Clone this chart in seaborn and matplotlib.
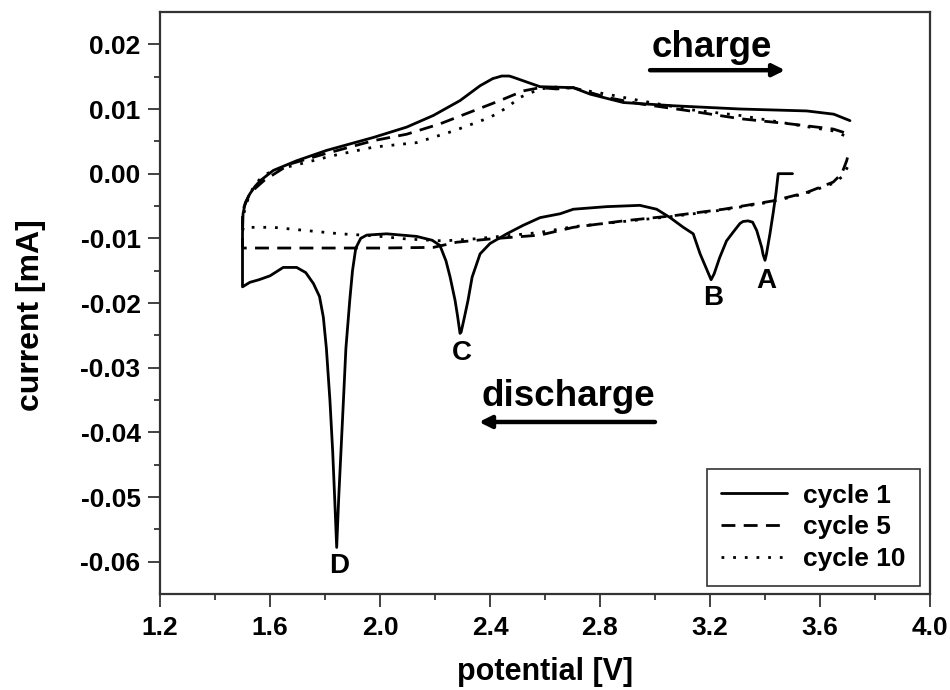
import matplotlib
matplotlib.use('Agg')
import matplotlib.pyplot as plt
import pandas as pd
import seaborn as sns

# cycle 1 (starts at OCV, goes through A, B, C, D, then charges back up)
cycle1_v = [3.50, 3.448, 3.44, 3.43, 3.418, 3.405, 3.40, 3.393, 3.388, 3.37, 3.355, 3.338, 3.32,
            3.309, 3.285, 3.26, 3.235, 3.215, 3.204, 3.19, 3.164, 3.139, 3.103, 3.055, 3.006,
            2.945, 2.824, 2.703, 2.655, 2.582, 2.52, 2.461, 2.40, 2.364, 2.335, 2.32, 2.307,
            2.295, 2.291, 2.282, 2.273, 2.255, 2.24, 2.218, 2.19, 2.133, 2.024, 1.952, 1.93,
            1.912, 1.90, 1.89, 1.876, 1.867, 1.858, 1.85, 1.8425, 1.835, 1.828, 1.818, 1.805,
            1.794, 1.78, 1.758, 1.73, 1.697, 1.648, 1.60, 1.56, 1.527, 1.50, 1.50, 1.502, 1.51,
            1.527, 1.545, 1.564, 1.612, 1.697, 1.806, 1.976, 2.097, 2.194, 2.291, 2.364, 2.41,
            2.443, 2.47, 2.485, 2.545, 2.582, 2.703, 2.764, 2.885, 3.067, 3.309, 3.552, 3.65,
            3.709]
cycle1_i = [0.0, 0.0, -0.003, -0.006, -0.0093, -0.0125, -0.0134, -0.0125, -0.0114, -0.0088,
            -0.0075, -0.0073, -0.0074, -0.0077, -0.009, -0.0104, -0.013, -0.0155, -0.0164,
            -0.015, -0.0124, -0.0093, -0.0083, -0.0068, -0.0055, -0.0049, -0.0051, -0.0055,
            -0.0062, -0.0068, -0.008, -0.0093, -0.0108, -0.0124, -0.016, -0.0196, -0.0222,
            -0.0245, -0.0247, -0.022, -0.0196, -0.016, -0.0135, -0.0111, -0.0103, -0.0097,
            -0.0093, -0.0095, -0.01, -0.0115, -0.015, -0.0196, -0.027, -0.0351, -0.043, -0.05,
            -0.0578, -0.05, -0.043, -0.0351, -0.027, -0.0222, -0.019, -0.017, -0.0153, -0.0145,
            -0.0145, -0.0158, -0.0164, -0.0168, -0.0175, -0.0093, -0.0062, -0.0045, -0.0031,
            -0.002, -0.0011, 0.0005, 0.002, 0.0036, 0.0056, 0.0072, 0.009, 0.0113, 0.0136,
            0.0147, 0.0151, 0.0151, 0.0149, 0.014, 0.01345, 0.0133, 0.0123, 0.011, 0.0105,
            0.010, 0.0097, 0.0092, 0.0082]

# cycle 5
cycle5_v = [3.70, 3.697, 3.679, 3.648, 3.552, 3.43, 3.249, 3.067, 2.885, 2.703, 2.582, 2.40,
            2.279, 2.194, 2.0, 1.8, 1.6, 1.5, 1.5, 1.527, 1.58, 1.673, 1.794, 1.976, 2.097,
            2.218, 2.339, 2.436, 2.521, 2.582, 2.642, 2.703, 2.824, 2.945, 3.127, 3.309, 3.491,
            3.648, 3.70]
cycle5_i = [0.0025, 0.002, 0.0, -0.0013, -0.0029, -0.0042, -0.0055, -0.0065, -0.0073, -0.0083,
            -0.0095, -0.0101, -0.0106, -0.0114, -0.0115, -0.0115, -0.0115, -0.0115, -0.0057,
            -0.003, -0.001, 0.0015, 0.003, 0.0051, 0.0061, 0.0077, 0.0097, 0.0113, 0.0128,
            0.0133, 0.0131, 0.0133, 0.0118, 0.0108, 0.0097, 0.0085, 0.0077, 0.0069, 0.0062]

# cycle 10
cycle10_v = [3.70, 3.68, 3.648, 3.552, 3.43, 3.249, 3.067, 2.885, 2.703, 2.58, 2.461, 2.339,
             2.23, 2.097, 1.976, 1.855, 1.733, 1.612, 1.503, 1.50, 1.50, 1.515, 1.54, 1.57,
             1.61, 1.709, 1.83, 1.976, 2.133, 2.267, 2.40, 2.461, 2.509, 2.582, 2.642, 2.70,
             2.824, 2.945, 3.127, 3.309, 3.491, 3.648, 3.70]
cycle10_i = [0.001, -0.0005, -0.0015, -0.003, -0.0043, -0.0056, -0.0066, -0.0074, -0.0082,
             -0.0091, -0.0096, -0.0101, -0.0104, -0.0101, -0.0096, -0.0093, -0.0088, -0.0083,
             -0.0083, -0.009, -0.007, -0.0045, -0.002, -0.0005, 0.0005, 0.0015, 0.0028, 0.0041,
             0.0048, 0.0066, 0.0087, 0.0102, 0.0118, 0.0131, 0.0134, 0.0132, 0.0123, 0.0113,
             0.0099, 0.009, 0.0077, 0.0066, 0.0057]

cycle_names = ['cycle 1', 'cycle 5', 'cycle 10']

# peak labels
peak_labels = ['A', 'B', 'C', 'D']
peak_v = [3.406, 3.212, 2.297, 1.852]
peak_i = [-0.0166, -0.0193, -0.0278, -0.0606]

frames = []
for name, v, i in zip(cycle_names, [cycle1_v, cycle5_v, cycle10_v], [cycle1_i, cycle5_i, cycle10_i]):
    frames.append(pd.DataFrame({'potential': v, 'current': i, 'cycle': name}))
df = pd.concat(frames, ignore_index=True)

sns.set_theme(style='ticks')
plt.rcParams['font.family'] = ['Liberation Sans', 'DejaVu Sans']
plt.rcParams['font.weight'] = 'bold'
plt.rcParams['text.color'] = 'black'
plt.rcParams['axes.labelcolor'] = 'black'
plt.rcParams['xtick.labelcolor'] = 'black'
plt.rcParams['ytick.labelcolor'] = 'black'

fig = plt.figure(figsize=(9.5, 6.9), dpi=100)
ax = fig.add_axes([160 / 950, 1 - 594 / 690, 770 / 950, 582 / 690])

sns.lineplot(data=df, x='potential', y='current', style='cycle', style_order=cycle_names,
             dashes={'cycle 1': '', 'cycle 5': (5, 3), 'cycle 10': (1, 3.2)},
             sort=False, estimator=None, color='black', linewidth=2.0, ax=ax)

ax.set_xlim(1.2, 4.0)
ax.set_ylim(-0.065, 0.025)
ax.set_xticks([1.2, 1.6, 2.0, 2.4, 2.8, 3.2, 3.6, 4.0])
ax.set_xticks([1.4, 1.8, 2.2, 2.6, 3.0, 3.4, 3.8], minor=True)
ax.set_xticklabels(['1.2', '1.6', '2.0', '2.4', '2.8', '3.2', '3.6', '4.0'])
yt = [0.02, 0.01, 0.0, -0.01, -0.02, -0.03, -0.04, -0.05, -0.06]
ax.set_yticks(yt)
ax.set_yticklabels([f'{t:.2f}' for t in yt])
ax.set_yticks([0.015, 0.005, -0.005, -0.015, -0.025, -0.035, -0.045, -0.055], minor=True)
ax.tick_params(which='major', direction='out', length=9, width=1.3, labelsize=19,
               color='#333333', labelcolor='black')
ax.tick_params(which='minor', direction='out', length=4, width=1.3, color='#333333')
ax.tick_params(axis='x', pad=7)
ax.tick_params(axis='y', pad=5)
for s in ax.spines.values():
    s.set_linewidth(1.6)
    s.set_color('#333333')
    s.set_visible(True)

ax.set_xlabel('potential [V]', fontsize=22, fontweight='bold')
ax.set_ylabel('current [mA]', fontsize=23, fontweight='bold')
ax.xaxis.set_label_coords(0.5, -0.108)
ax.yaxis.set_label_coords(-0.148, 0.48)

# peak labels
for lab, v, i in zip(peak_labels, peak_v, peak_i):
    ax.text(v, i, lab, ha='center', va='center', fontsize=20, fontweight='bold')

# charge / discharge arrows
ax.text(3.206, 0.0181, 'charge', ha='center', va='baseline', fontsize=26.5, fontweight='bold')
ax.annotate('', xy=(3.473, 0.016), xytext=(2.982, 0.016),
            arrowprops=dict(arrowstyle='-|>', lw=3.2, color='black', mutation_scale=18,
                            shrinkA=0, shrinkB=0))
ax.text(2.685, -0.036, 'discharge', ha='center', va='baseline', fontsize=26.5, fontweight='bold')
ax.annotate('', xy=(2.36, -0.0384), xytext=(3.0, -0.0384),
            arrowprops=dict(arrowstyle='-|>', lw=3.2, color='black', mutation_scale=18,
                            shrinkA=0, shrinkB=0))

handles, labels = ax.get_legend_handles_labels()
ax.legend(handles, labels, loc='lower right', bbox_to_anchor=(0.987, 0.014), borderaxespad=0,
          fancybox=False, edgecolor='#333333', framealpha=1, handlelength=2.5,
          handletextpad=0.6, labelspacing=0.3, borderpad=0.55,
          prop={'weight': 'bold', 'size': 19})
ax.get_legend().get_frame().set_linewidth(1.2)

fig.savefig('out.png', dpi=100)
